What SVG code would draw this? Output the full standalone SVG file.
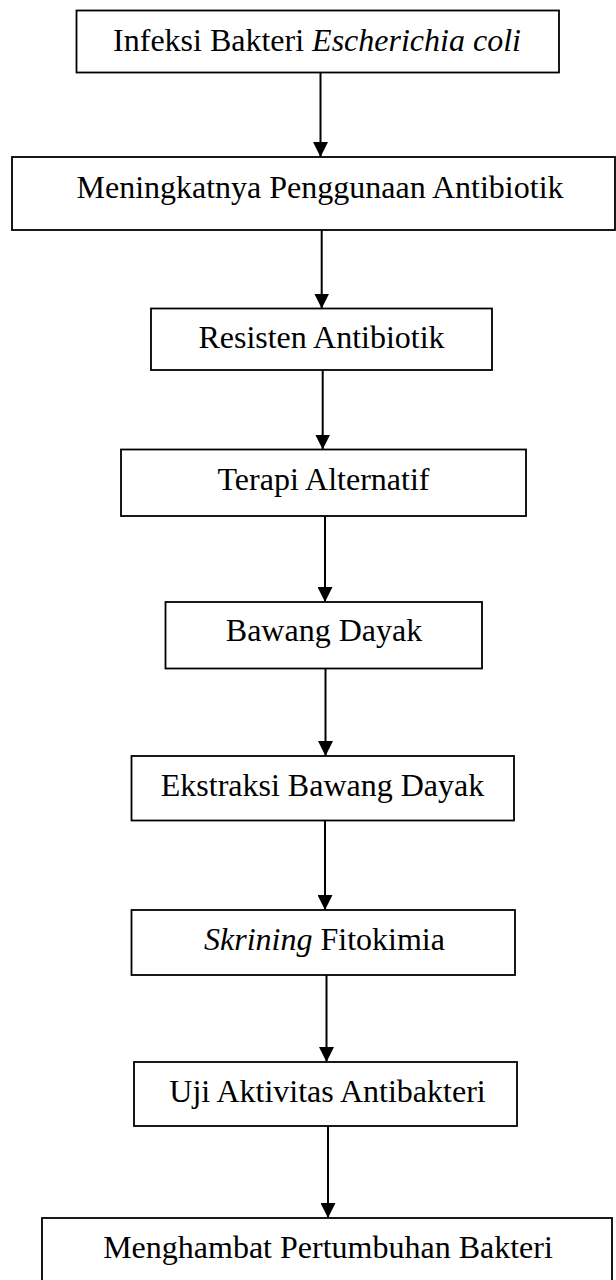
<svg xmlns="http://www.w3.org/2000/svg" width="616" height="1280" viewBox="0 0 616 1280">
<style>
.box{fill:#fff;stroke:#000;stroke-width:1.8}
.lbl{font-family:"Liberation Serif","Times New Roman",serif;font-size:32px;fill:#000;text-anchor:middle}
.it{font-style:italic}
.conn{stroke:#000;stroke-width:2;fill:none}
</style>
<defs>
<marker id="ah" markerUnits="userSpaceOnUse" markerWidth="15" markerHeight="15" refX="15" refY="7.5" orient="auto" viewBox="0 0 15 15">
<path d="M0,0 L15,7.5 L0,15 z" fill="#000"/>
</marker>
</defs>
<rect width="616" height="1280" fill="#fff"/>
<g id="connectors">
<line class="conn" x1="320.5" y1="72.5" x2="320.5" y2="157" marker-end="url(#ah)"/>
<line class="conn" x1="321.7" y1="230" x2="321.7" y2="308.5" marker-end="url(#ah)"/>
<line class="conn" x1="322.7" y1="370" x2="322.7" y2="449.5" marker-end="url(#ah)"/>
<line class="conn" x1="325" y1="516" x2="325" y2="602" marker-end="url(#ah)"/>
<line class="conn" x1="325.5" y1="668.5" x2="325.5" y2="756" marker-end="url(#ah)"/>
<line class="conn" x1="325" y1="820.5" x2="325" y2="910" marker-end="url(#ah)"/>
<line class="conn" x1="326.5" y1="975" x2="326.5" y2="1062" marker-end="url(#ah)"/>
<line class="conn" x1="328" y1="1126" x2="328" y2="1218" marker-end="url(#ah)"/>
</g>
<g id="n1"><rect class="box" x="76.5" y="10.5" width="482.5" height="62"/><text class="lbl" x="317" y="51">Infeksi Bakteri <tspan class="it">Escherichia coli</tspan></text></g>
<g id="n2"><rect class="box" x="12" y="157" width="603" height="73"/><text class="lbl" x="320" y="198">Meningkatnya Penggunaan Antibiotik</text></g>
<g id="n3"><rect class="box" x="151" y="308.5" width="341" height="61.5"/><text class="lbl" x="321.5" y="348">Resisten Antibiotik</text></g>
<g id="n4"><rect class="box" x="121" y="449.5" width="405" height="66.5"/><text class="lbl" x="323.5" y="490">Terapi Alternatif</text></g>
<g id="n5"><rect class="box" x="165.5" y="602" width="316.5" height="66.5"/><text class="lbl" x="324" y="641">Bawang Dayak</text></g>
<g id="n6"><rect class="box" x="131.5" y="756" width="382.5" height="64.5"/><text class="lbl" x="322.5" y="796">Ekstraksi Bawang Dayak</text></g>
<g id="n7"><rect class="box" x="131.5" y="910" width="383.5" height="65"/><text class="lbl" x="324.5" y="949.5"><tspan class="it">Skrining</tspan> Fitokimia</text></g>
<g id="n8"><rect class="box" x="134" y="1062" width="383" height="64"/><text class="lbl" x="327.5" y="1101.5">Uji Aktivitas Antibakteri</text></g>
<g id="n9"><rect class="box" x="42" y="1218" width="570" height="80"/><text class="lbl" x="328" y="1257.5">Menghambat Pertumbuhan Bakteri</text></g>
</svg>
